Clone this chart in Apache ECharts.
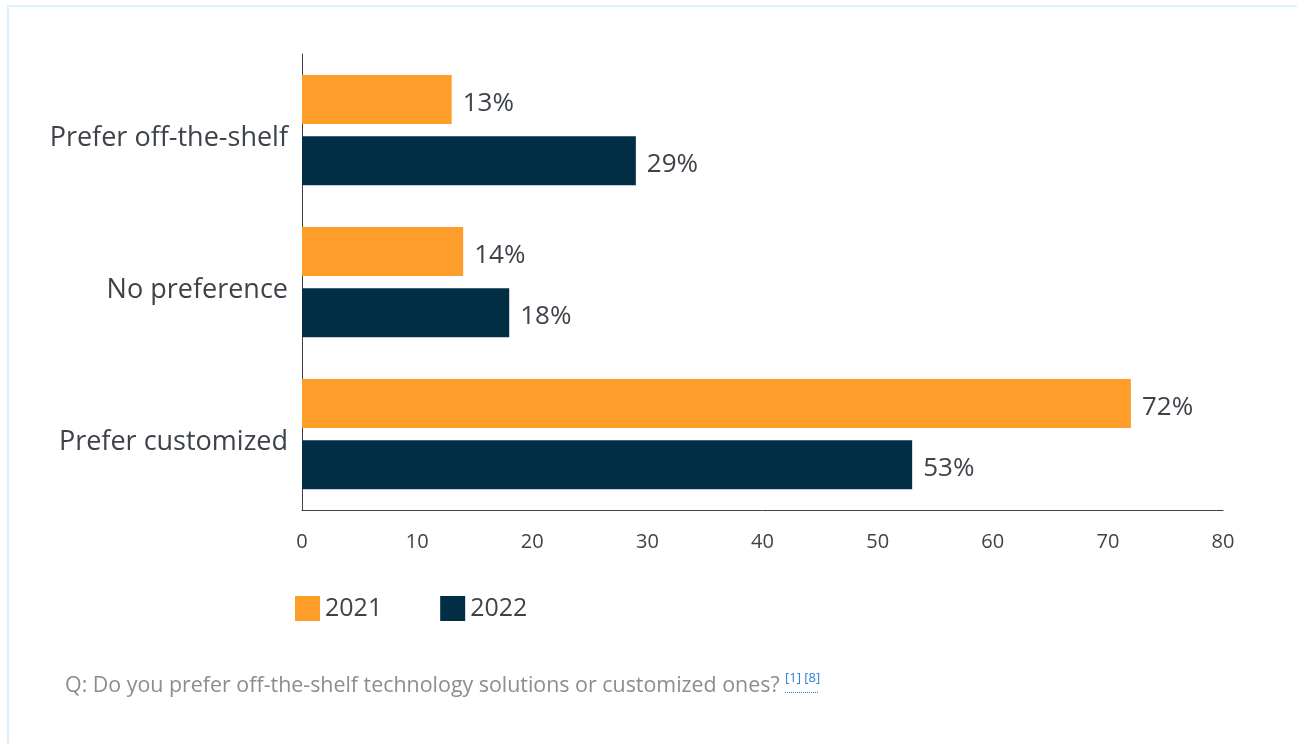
<!DOCTYPE html>
<html>
<head>
<meta charset="utf-8">
<script src="https://cdn.jsdelivr.net/npm/echarts@6/dist/echarts.min.js"></script>
<style>
  html, body { margin: 0; padding: 0; background: #ffffff; }
  #card { position: absolute; left: 7px; top: 5px; width: 1300px; height: 760px;
          border: 2px solid #dcf3fb; box-sizing: border-box; }
  #chart { position: absolute; left: 0; top: 0; width: 1297px; height: 744px; }
</style>
</head>
<body>
<div id="card"></div>
<div id="chart"></div>
<script>
// Survey answers: preference for off-the-shelf vs customized technology
const categories = ['Prefer off-the-shelf', 'No preference', 'Prefer customized'];
const years = ['2021', '2022'];
const values2021 = [13, 14, 72];
const values2022 = [29, 18, 53];
const xTicks = [0, 80, 10]; // min, max, interval

const textColor = '#3e434a';
const font = '"Open Sans", "Noto Sans", sans-serif';
const colors = ['#ff9d2a', '#022e45'];

const chart = echarts.init(document.getElementById('chart'), null, { renderer: 'canvas' });

function barSeries(name, data, color) {
  return {
    name: name,
    type: 'bar',
    data: data,
    barWidth: 49,
    barGap: '25%',
    itemStyle: { color: color },
    label: {
      show: true,
      position: 'right',
      distance: 11,
      offset: [0, 4],
      formatter: p => p.value + '%',
      color: textColor,
      fontFamily: font,
      fontSize: 26
    }
  };
}

chart.setOption({
  animation: false,
  textStyle: { fontFamily: font },
  grid: { left: 302, top: 54, width: 921, height: 456, containLabel: false },
  xAxis: {
    type: 'value',
    min: xTicks[0],
    max: xTicks[1],
    interval: xTicks[2],
    axisLine: { show: true, lineStyle: { color: '#3e434a', width: 1 } },
    axisTick: { show: false },
    splitLine: { show: false },
    axisLabel: { color: textColor, fontSize: 20, fontFamily: font, margin: 22 }
  },
  yAxis: {
    type: 'category',
    data: categories,
    inverse: true,
    axisLine: { show: true, lineStyle: { color: '#3e434a', width: 1 } },
    axisTick: { show: false },
    axisLabel: {
      margin: 14,
      formatter: v => '{c|' + v + '}',
      rich: {
        c: { color: textColor, fontSize: 27, fontFamily: font, padding: [16, 0, 0, 0] }
      }
    }
  },
  legend: {
    left: 290,
    top: 591,
    itemWidth: 25,
    itemHeight: 25,
    itemGap: 58,
    icon: 'rect',
    data: years,
    textStyle: { color: textColor, fontSize: 25, fontFamily: font }
  },
  series: [
    barSeries(years[0], values2021, colors[0]),
    barSeries(years[1], values2022, colors[1])
  ],
  graphic: [
    {
      type: 'text',
      left: 65,
      top: 675,
      style: {
        text: 'Q: Do you prefer off-the-shelf technology solutions or customized ones?',
        fill: '#8a8d91',
        font: '21.4px "Open Sans", sans-serif'
      }
    },
    {
      type: 'text',
      left: 785,
      top: 672,
      style: {
        text: '[1] [8]',
        fill: '#2a7fd4',
        font: '13px "Open Sans", sans-serif'
      }
    },
    {
      type: 'line',
      shape: { x1: 785, y1: 692.5, x2: 818, y2: 692.5 },
      style: { stroke: '#2a7fd4', lineWidth: 1, lineDash: [1, 1] }
    }
  ]
});
</script>
</body>
</html>
